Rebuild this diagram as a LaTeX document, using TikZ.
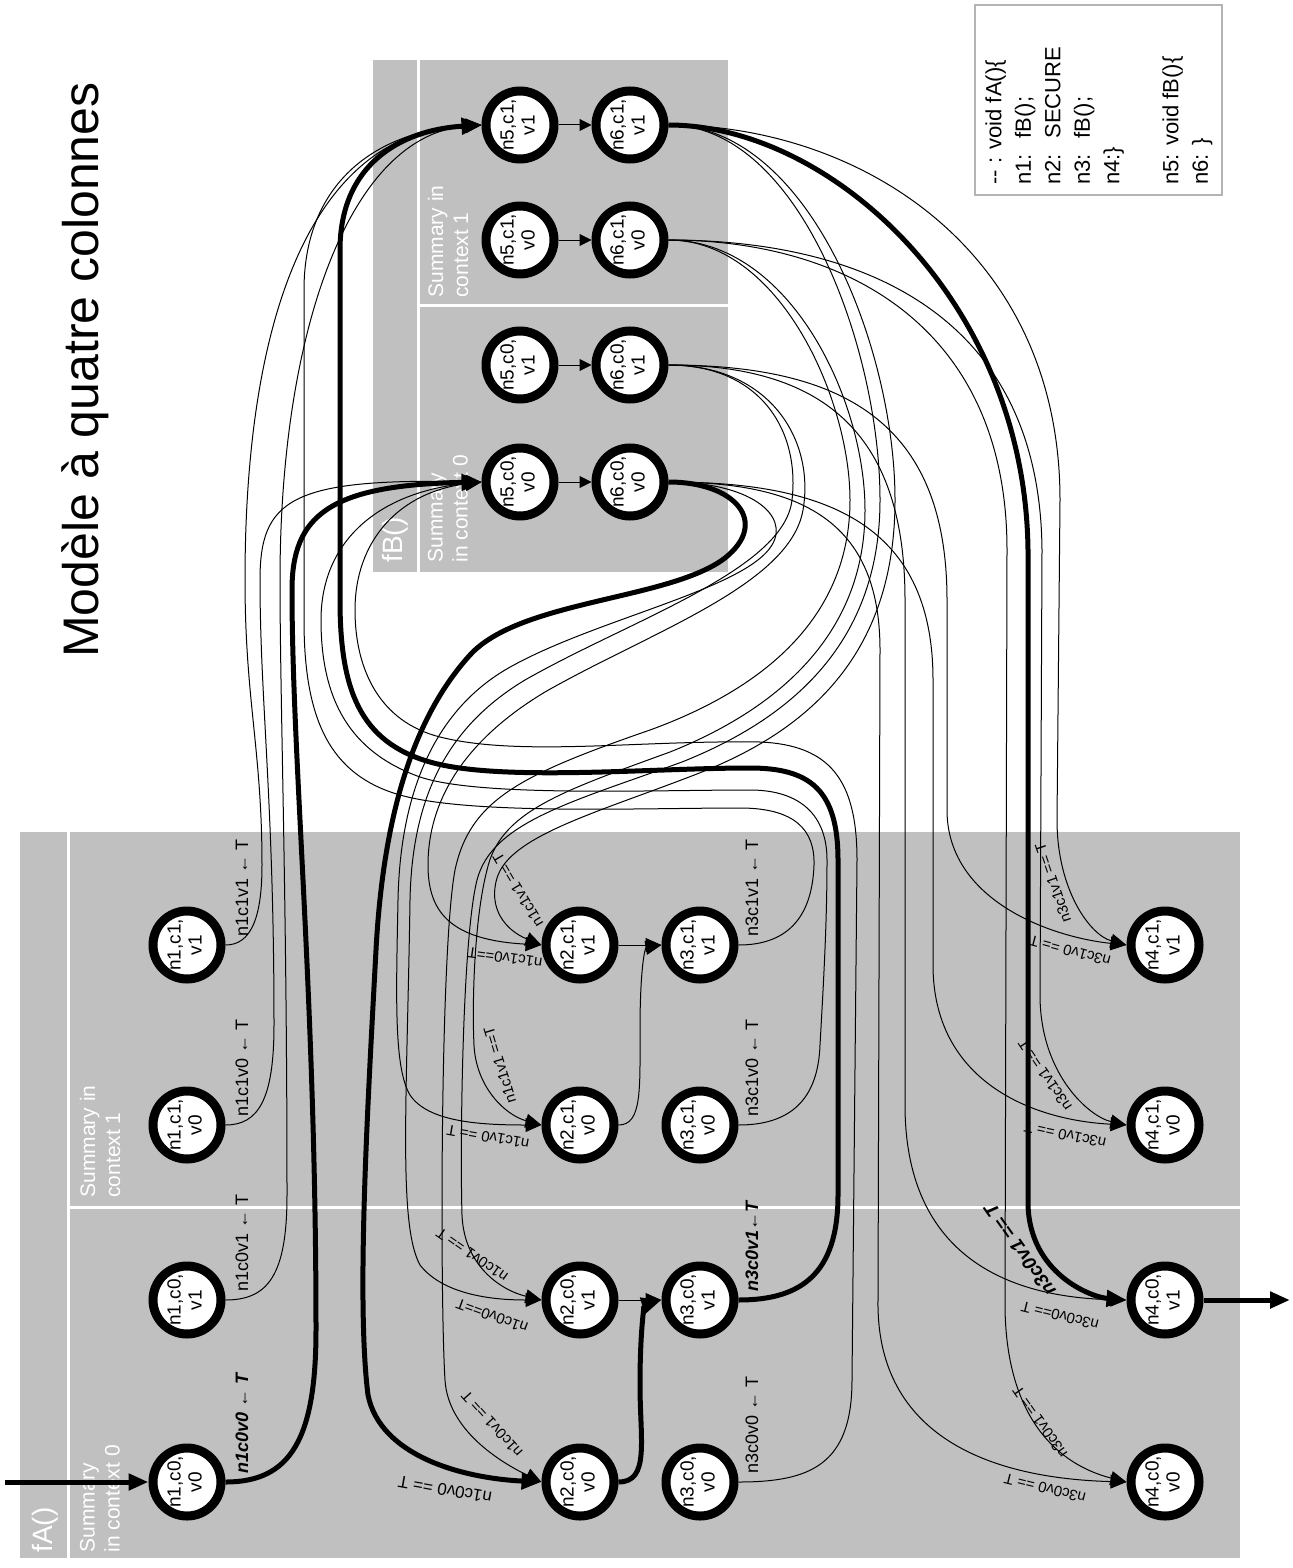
\documentclass[tikz,border=0pt]{standalone}
\usepackage{graphicx}
\usepackage{fontspec}
\setmainfont{Liberation Sans}
\usetikzlibrary{arrows.meta, calc}

\definecolor{boxgray}{HTML}{C0C0C0}
\definecolor{codeframe}{HTML}{B4B4B4}

% two lines of a state, turned a quarter
\newcommand{\stxt}[2]{\rotatebox{90}{\begin{tabular}{@{}c@{}}#1\\#2\end{tabular}}}

\begin{document}
\begin{tikzpicture}[
  x=0.5pt, y=-0.5pt,
  font=\fontsize{9.5}{10.5}\selectfont,
  stnode/.style={draw, circle, line width=4.5pt, fill=white, minimum size=34pt, inner sep=0pt},
  flow/.style={line width=0.5pt, -{Triangle[length=8pt, width=7pt]}},
  hot/.style={line width=2.5pt, -{Triangle[length=10pt, width=8pt]}},
  clab/.style={rotate=90, anchor=west, inner sep=0pt, font=\fontsize{9}{9.5}\selectfont},
  rlab/.style={inner sep=0pt, font=\fontsize{7.5}{8}\selectfont},
  boxlab/.style={rotate=90, anchor=west, text=white, align=left, inner sep=0pt, font=\fontsize{10.5}{12.5}\selectfont},
  divider/.style={white, line width=1.5pt}
]
\useasboundingbox (0,0) rectangle (1292,1568);

% boxes of the two functions
\fill[boxgray] (20,832) rectangle (1240,1558);
\draw[divider] (68,832) -- (68,1558);
\draw[divider] (68,1207) -- (1240,1207);
\fill[boxgray] (373,60) rectangle (728,572);
\draw[divider] (418,60) -- (418,572);
\draw[divider] (418,305) -- (728,305);

\node[boxlab, font=\fontsize{14}{16}\selectfont] (fAname) at (45,1553) {fA()};
\node[boxlab] (fAsum0) at (100,1553) {Summary\\in context 0};
\node[boxlab] (fAsum1) at (100,1198) {Summary in\\context 1};
\node[boxlab, font=\fontsize{14}{16}\selectfont] (fBname) at (395,563) {fB()};
\node[boxlab] (fBsum0) at (448,563) {Summary\\in context 0};
\node[boxlab] (fBsum1) at (448,298) {Summary in\\context 1};

\node[rotate=90, font=\fontsize{25}{30}\selectfont] (title) at (85,370) {Modèle à quatre colonnes};

% source listing
\draw[codeframe, line width=1pt] (975,5) rectangle (1222,195);
\node[rotate=90, anchor=north west, align=left, inner sep=0pt,
      font=\fontsize{11}{14.75}\selectfont] (code) at (985,185)
  {-{}- : void fA()\{\\
   \makebox[2.1em][l]{n1:}fB();\\
   \makebox[2.1em][l]{n2:}SECURE\\
   \makebox[2.1em][l]{n3:}fB();\\
   n4:\}\\
   \mbox{}\\
   n5: void fB()\{\\
   n6: \}};

% states of fA()
\node[stnode] (n1c0v0) at (187,1482) {\stxt{n1,c0,}{v0}};
\node[stnode] (n1c0v1) at (187,1300) {\stxt{n1,c0,}{v1}};
\node[stnode] (n1c1v0) at (187,1125) {\stxt{n1,c1,}{v0}};
\node[stnode] (n1c1v1) at (187,945)  {\stxt{n1,c1,}{v1}};
\node[stnode] (n2c0v0) at (580,1482) {\stxt{n2,c0,}{v0}};
\node[stnode] (n2c0v1) at (580,1300) {\stxt{n2,c0,}{v1}};
\node[stnode] (n2c1v0) at (580,1125) {\stxt{n2,c1,}{v0}};
\node[stnode] (n2c1v1) at (580,945)  {\stxt{n2,c1,}{v1}};
\node[stnode] (n3c0v0) at (700,1482) {\stxt{n3,c0,}{v0}};
\node[stnode] (n3c0v1) at (700,1300) {\stxt{n3,c0,}{v1}};
\node[stnode] (n3c1v0) at (700,1125) {\stxt{n3,c1,}{v0}};
\node[stnode] (n3c1v1) at (700,945)  {\stxt{n3,c1,}{v1}};
\node[stnode] (n4c0v0) at (1165,1482) {\stxt{n4,c0,}{v0}};
\node[stnode] (n4c0v1) at (1165,1300) {\stxt{n4,c0,}{v1}};
\node[stnode] (n4c1v0) at (1165,1125) {\stxt{n4,c1,}{v0}};
\node[stnode] (n4c1v1) at (1165,945)  {\stxt{n4,c1,}{v1}};

% states of fB()
\node[stnode] (n5c0v0) at (520,482) {\stxt{n5,c0,}{v0}};
\node[stnode] (n5c0v1) at (520,365) {\stxt{n5,c0,}{v1}};
\node[stnode] (n5c1v0) at (520,240) {\stxt{n5,c1,}{v0}};
\node[stnode] (n5c1v1) at (520,125) {\stxt{n5,c1,}{v1}};
\node[stnode] (n6c0v0) at (630,482) {\stxt{n6,c0,}{v0}};
\node[stnode] (n6c0v1) at (630,365) {\stxt{n6,c0,}{v1}};
\node[stnode] (n6c1v0) at (630,240) {\stxt{n6,c1,}{v0}};
\node[stnode] (n6c1v1) at (630,125) {\stxt{n6,c1,}{v1}};

% entry and exit
\coordinate (entry) at (5,1482);
\coordinate (exit) at (1290,1300);
\draw[hot] (entry) -- (n1c0v0);
\draw[hot] (n4c0v1) -- (exit);

% inside fB()
\draw[flow, -{Triangle[length=6pt, width=6pt]}] (n5c0v0) -- (n6c0v0);
\draw[flow, -{Triangle[length=6pt, width=6pt]}] (n5c0v1) -- (n6c0v1);
\draw[flow, -{Triangle[length=6pt, width=6pt]}] (n5c1v0) -- (n6c1v0);
\draw[flow, -{Triangle[length=6pt, width=6pt]}] (n5c1v1) -- (n6c1v1);

% inside fA()
\draw[hot] (n2c0v0.east) .. controls (650,1482) and (640,1440) .. (640,1385)
  .. controls (640,1325) and (645,1305) .. (n3c0v1.west);
\draw[flow] (n2c0v1) -- (n3c0v1);
\draw[flow] (n2c1v0.east) .. controls (642,1125) and (640,1090) .. (640,1030)
  .. controls (640,968) and (645,948) .. (n3c1v1.west);
\draw[flow] (n2c1v1) -- (n3c1v1);

% calls at n1
\draw[hot] (n1c0v0.east) .. controls (290,1482) and (316,1440) .. (316,1330)
  .. controls (316,1000) and (292,760) .. (292,590)
  .. controls (292,515) and (330,485) .. (n5c0v0.west);
\draw[flow] (n1c0v1.east) .. controls (268,1300) and (287,1275) .. (287,1195)
  .. controls (287,900) and (280,700) .. (280,580)
  .. controls (280,330) and (350,135) .. (n5c1v1.west);
\draw[flow] (n1c1v0.east) .. controls (258,1125) and (274,1100) .. (274,1025)
  .. controls (274,800) and (260,700) .. (260,580)
  .. controls (260,500) and (290,478) .. (n5c0v0.west);
\draw[flow] (n1c1v1.east) .. controls (250,945) and (262,920) .. (262,865)
  .. controls (262,750) and (245,700) .. (245,580)
  .. controls (245,300) and (320,130) .. (n5c1v1.west);

% calls at n3
\draw[hot] (n3c0v1.east) .. controls (800,1300) and (838,1275) .. (838,1195) -- (838,860)
  .. controls (838,790) and (810,768) .. (750,768)
  .. controls (650,768) and (500,782) .. (430,762)
  .. controls (360,742) and (340,690) .. (340,600) -- (340,250)
  .. controls (340,165) and (400,130) .. (n5c1v1.west);
\draw[flow] (n3c0v0.east) .. controls (810,1482) and (852,1465) .. (852,1380) -- (857,860)
  .. controls (857,780) and (830,745) .. (760,742)
  .. controls (640,740) and (520,757) .. (440,737)
  .. controls (380,722) and (355,670) .. (355,610)
  .. controls (355,540) and (400,492) .. (n5c0v0.west);
\draw[flow] (n3c1v0.east) .. controls (790,1125) and (818,1100) .. (820,1045)
  .. controls (824,975) and (827,920) .. (827,860)
  .. controls (827,815) and (800,790) .. (750,790)
  .. controls (650,790) and (480,797) .. (420,777)
  .. controls (350,752) and (321,700) .. (321,620)
  .. controls (321,540) and (380,492) .. (n5c0v0.west);
\draw[flow] (n3c1v1.east) .. controls (785,945) and (812,920) .. (814,865)
  .. controls (815,830) and (795,808) .. (740,808)
  .. controls (640,808) and (470,815) .. (400,795)
  .. controls (330,775) and (304,720) .. (304,620) -- (304,290)
  .. controls (304,180) and (380,130) .. (n5c1v1.west);

% returns to n2
\draw[hot] (n6c0v0.east) .. controls (735,482) and (770,522) .. (725,558)
  .. controls (670,600) and (520,600) .. (470,655)
  .. controls (420,710) and (384,800) .. (376,950)
  .. controls (368,1100) and (356,1300) .. (368,1395)
  .. controls (380,1455) and (460,1478) .. (n2c0v0.west);
\draw[flow] (n6c0v0.east) .. controls (750,482) and (790,515) .. (772,545)
  .. controls (745,590) and (590,620) .. (505,670)
  .. controls (430,715) and (400,800) .. (398,900)
  .. controls (396,1000) and (394,1068) .. (410,1095)
  .. controls (428,1122) and (480,1125) .. (n2c1v0.west);
\draw[flow] (n6c0v1.east) .. controls (760,365) and (800,430) .. (792,500)
  .. controls (784,570) and (630,620) .. (525,680)
  .. controls (445,728) and (412,800) .. (410,900)
  .. controls (407,1100) and (398,1225) .. (420,1265)
  .. controls (445,1297) and (500,1300) .. (n2c0v1.west);
\draw[flow] (n6c0v1.east) .. controls (770,365) and (815,440) .. (803,510)
  .. controls (790,585) and (650,632) .. (545,692)
  .. controls (465,740) and (428,800) .. (428,865)
  .. controls (428,912) and (450,940) .. (n2c1v1.west);
\draw[flow] (n6c1v0.east) .. controls (780,240) and (850,400) .. (850,500)
  .. controls (850,620) and (760,690) .. (650,730)
  .. controls (520,775) and (470,800) .. (455,870)
  .. controls (440,950) and (440,1300) .. (445,1380)
  .. controls (448,1430) and (500,1462) .. (n2c0v0.west);
\draw[flow] (n6c1v0.east) .. controls (790,240) and (865,400) .. (865,510)
  .. controls (865,640) and (770,712) .. (670,752)
  .. controls (560,792) and (500,812) .. (487,870)
  .. controls (474,920) and (472,1005) .. (474,1045)
  .. controls (476,1087) and (505,1115) .. (n2c1v0.west);
\draw[flow] (n6c1v1.east) .. controls (800,125) and (880,350) .. (880,500)
  .. controls (880,650) and (782,722) .. (682,762)
  .. controls (572,802) and (492,822) .. (477,880)
  .. controls (462,940) and (460,1150) .. (462,1215)
  .. controls (464,1265) and (500,1290) .. (n2c0v1.west);
\draw[flow] (n6c1v1.east) .. controls (810,125) and (895,350) .. (895,500)
  .. controls (895,660) and (802,732) .. (702,772)
  .. controls (600,812) and (510,835) .. (497,878)
  .. controls (488,908) and (505,930) .. (n2c1v1.west);

% returns to n4
\draw[flow] (n6c0v0.east) .. controls (800,482) and (880,520) .. (880,650) -- (878,1300)
  .. controls (876,1430) and (980,1478) .. (n4c0v0.west);
\draw[flow] (n6c0v0.east) .. controls (820,482) and (933,520) .. (933,680) -- (933,965)
  .. controls (933,1080) and (1030,1120) .. (n4c1v0.west);
\draw[flow] (n6c0v1.east) .. controls (820,365) and (905,430) .. (905,600) -- (905,1105)
  .. controls (905,1250) and (1000,1297) .. (n4c0v1.west);
\draw[flow] (n6c0v1.east) .. controls (840,365) and (947,420) .. (947,600) -- (947,810)
  .. controls (947,900) and (1050,937) .. (n4c1v1.west);
\draw[flow] (n6c1v0.east) .. controls (850,240) and (1007,330) .. (1007,550) -- (1005,1300)
  .. controls (1004,1420) and (1060,1465) .. (n4c0v0.west);
\draw[flow] (n6c1v0.east) .. controls (870,240) and (1040,320) .. (1042,550) -- (1040,995)
  .. controls (1040,1075) and (1090,1117) .. (n4c1v0.west);
\draw[hot] (n6c1v1.east) .. controls (830,125) and (1025,300) .. (1028,550) -- (1028,1205)
  .. controls (1030,1273) and (1090,1297) .. (n4c0v1.west);
\draw[flow] (n6c1v1.east) .. controls (860,125) and (1060,250) .. (1060,500) -- (1057,820)
  .. controls (1057,890) and (1090,935) .. (n4c1v1.west);

% guards on the calls
\node[clab, font=\fontsize{9}{9.5}\bfseries\itshape] (g1c0v0) at ([shift={(55,-8)}]n1c0v0) {n1c0v0 ← T};
\node[clab] (g1c0v1) at ([shift={(55,-8)}]n1c0v1) {n1c0v1 ← T};
\node[clab] (g1c1v0) at ([shift={(55,-8)}]n1c1v0) {n1c1v0 ← T};
\node[clab] (g1c1v1) at ([shift={(55,-8)}]n1c1v1) {n1c1v1 ← T};
\node[clab] (g3c0v0) at ([shift={(52,-8)}]n3c0v0) {n3c0v0 ← T};
\node[clab, font=\fontsize{9}{9.5}\bfseries\itshape] (g3c0v1) at ([shift={(52,-8)}]n3c0v1) {n3c0v1←T};
\node[clab] (g3c1v0) at ([shift={(52,-8)}]n3c1v0) {n3c1v0 ← T};
\node[clab] (g3c1v1) at ([shift={(52,-8)}]n3c1v1) {n3c1v1 ← T};

% guards on the returns
\node[rlab, rotate=170, font=\fontsize{8.5}{9}\selectfont] (r2c0v0a) at ([shift={(-135,8)}]n2c0v0) {n1c0v0 == T};
\node[rlab, rotate=132] (r2c0v0b) at ([shift={(-88,-58)}]n2c0v0) {n1c0v1 == T};
\node[rlab, rotate=160] (r2c0v1a) at ([shift={(-88,16)}]n2c0v1) {n1c0v0==T};
\node[rlab, rotate=145] (r2c0v1b) at ([shift={(-108,-45)}]n2c0v1) {n1c0v1 == T};
\node[rlab, rotate=170] (r2c1v0a) at ([shift={(-92,12)}]n2c1v0) {n1c1v0 == T};
\node[rlab, rotate=107] (r2c1v0b) at ([shift={(-80,-60)}]n2c1v0) {n1c1v1 ==T};
\node[rlab, rotate=172] (r2c1v1a) at ([shift={(-75,13)}]n2c1v1) {n1c1v0==T};
\node[rlab, rotate=121] (r2c1v1b) at ([shift={(-62,-55)}]n2c1v1) {n1c1v1 == T};
\node[rlab, rotate=166] (r4c0v0a) at ([shift={(-120,6)}]n4c0v0) {n3c0v0 == T};
\node[rlab, rotate=125] (r4c0v0b) at ([shift={(-125,-60)}]n4c0v0) {n3c0v1 == T};
\node[rlab, rotate=166] (r4c0v1a) at ([shift={(-105,16)}]n4c0v1) {n3c0v0== T};
\node[rlab, rotate=125, font=\fontsize{9.5}{10}\bfseries\itshape] (r4c0v1b) at ([shift={(-145,-50)}]n4c0v1) {n3c0v1 == T};
\node[rlab, rotate=168] (r4c1v0a) at ([shift={(-100,10)}]n4c1v0) {n3c1v0 == T};
\node[rlab, rotate=124] (r4c1v0b) at ([shift={(-120,-50)}]n4c1v0) {n3c1v1 == T};
\node[rlab, rotate=165] (r4c1v1a) at ([shift={(-95,6)}]n4c1v1) {n3c1v0 == T};
\node[rlab, rotate=109] (r4c1v1b) at ([shift={(-112,-62)}]n4c1v1) {n3c1v1 == T};
\end{tikzpicture}
\end{document}
